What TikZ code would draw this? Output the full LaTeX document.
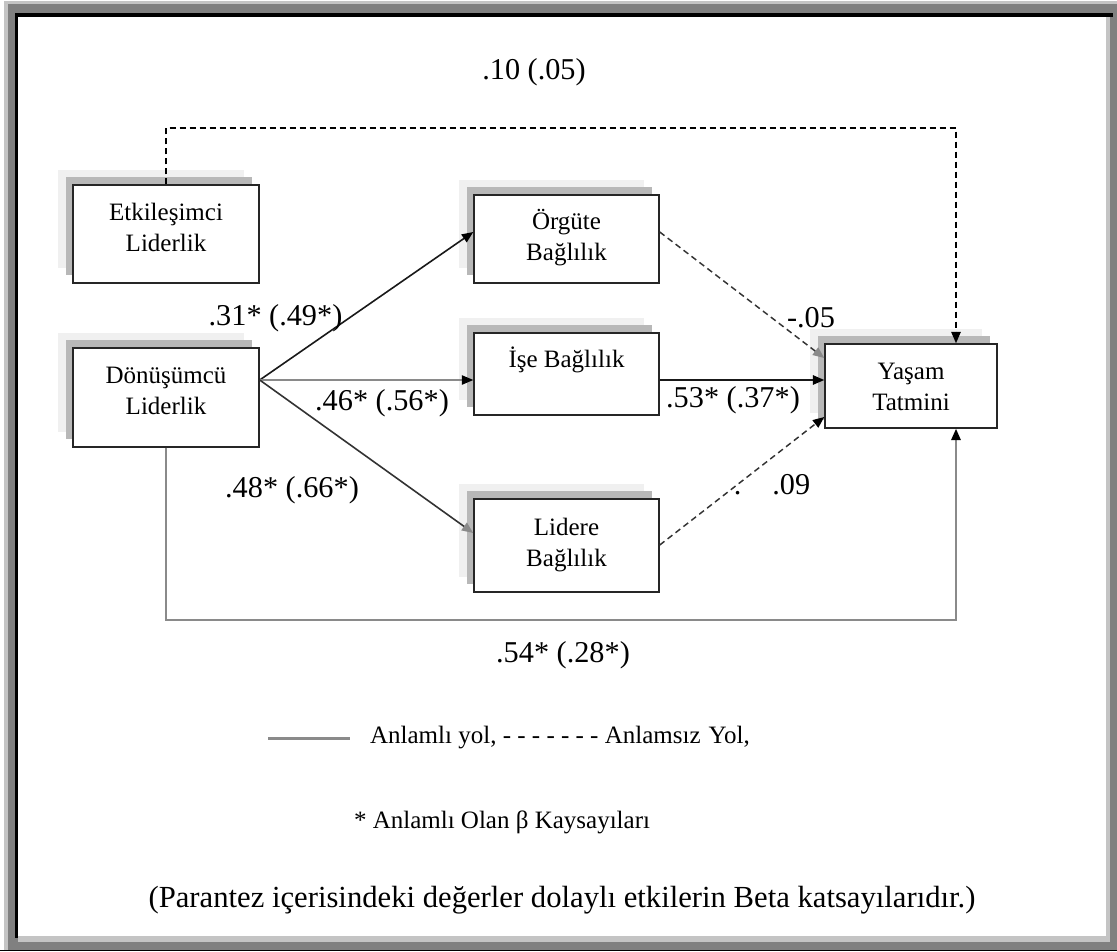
\documentclass[tikz,border=0pt]{standalone}
\usepackage{fontspec}
\setmainfont{Liberation Serif}
\usetikzlibrary{arrows.meta,shadows,calc}

\definecolor{framegray}{HTML}{808080}
\definecolor{framelight}{HTML}{C4C4C4}
\definecolor{shlight}{HTML}{F0F0F0}
\definecolor{shdark}{HTML}{B8B8B8}
\definecolor{pathgray}{HTML}{8A8A8A}
\definecolor{pathdark}{HTML}{333333}

\tikzset{
  box/.style={draw=black!85, line width=1.1pt, fill=white, inner sep=0pt,
    general shadow={fill=shlight, shadow xshift=-11.25pt, shadow yshift=11.25pt},
    general shadow={fill=shdark, shadow xshift=-5.25pt, shadow yshift=6pt}},
  boxtext/.style={font=\fontsize{18.75}{23.25}\selectfont, align=center, inner sep=0pt},
  coef/.style={font=\fontsize{22.7}{26}\selectfont, inner sep=0pt},
  note/.style={font=\fontsize{18.75}{23}\selectfont, inner sep=0pt},
  widenote/.style={font=\fontsize{23}{27}\selectfont, inner sep=0pt},
  tipblack/.style={-{Triangle[length=8.5pt,width=7pt,color=black]}},
  tipgray/.style={-{Triangle[length=8.5pt,width=7pt,color=pathgray]}},
  nonsig/.style={dashed, dash pattern=on 4.5pt off 3pt, line width=1.1pt},
}

\begin{document}
\begin{tikzpicture}[x=0.75pt, y=-0.75pt]
  \useasboundingbox (0,0) rectangle (1117,951);

  % page frame
  \fill[framelight] (4,1) rectangle (1117,950);
  \fill[framegray] (8,4) rectangle (1117,950);
  \fill[black] (15,13) rectangle (1113,17);
  \fill[black] (15,13) rectangle (18,938);
  \fill[framelight] (1106,17) rectangle (1110,942);
  \fill[framelight] (18,936) rectangle (1110,942);
  \fill[white] (18,17) rectangle (1106,936);
  \fill[black] (0,949.5) rectangle (1117,951);

  % boxes
  \node[box, minimum width=139.5pt, minimum height=73.5pt] (etk) at (166,234) {};
  \node[box, minimum width=139.5pt, minimum height=74.25pt] (don) at (166,397.5) {};
  \node[box, minimum width=138.75pt, minimum height=66pt] (org) at (566.5,239) {};
  \node[box, minimum width=138.75pt, minimum height=61.5pt] (ise) at (566.5,374) {};
  \node[box, minimum width=138.75pt, minimum height=69.75pt] (lid) at (566.5,545.5) {};
  \node[box, minimum width=129pt, minimum height=63pt] (yas) at (911,386) {};

  % box texts
  \node[boxtext] (etkt) at (166,227.5) {Etkileşimci\\Liderlik};
  \node[boxtext] (dont) at (166,391) {Dönüşümcü\\Liderlik};
  \node[boxtext] (orgt) at (566.5,237.5) {Örgüte\\Bağlılık};
  \node[boxtext] (iset) at (566.5,360) {İşe Bağlılık};
  \node[boxtext] (lidt) at (566.5,545) {Lidere\\Bağlılık};
  \node[boxtext] (yast) at (911,387) {Yaşam\\Tatmini};

  % paths from the transformational leadership box
  \draw[line width=1.2pt, color=black!90, tipblack]
    ($(don.east)+(0,-17.5)$) -- ($(org.west)+(0,-7)$);
  \draw[line width=0.8pt, color=pathgray, tipblack]
    ($(don.east)+(0,-17.5)$) -- ($(ise.west)+(0,6)$);
  \draw[line width=1.2pt, color=pathdark, tipgray]
    ($(don.east)+(0,-17.5)$) -- ($(lid.west)+(0,-12.5)$);

  % paths into life satisfaction
  \draw[nonsig, color=pathdark, tipgray]
    ($(org.east)+(0,-7)$) -- ($(yas.west)+(0,-28)$);
  \draw[line width=1.2pt, color=black!90, tipblack]
    ($(ise.east)+(0,6)$) -- ($(yas.west)+(0,-6)$);
  \draw[nonsig, color=pathdark, tipblack]
    ($(lid.east)+(0,-0.5)$) -- ($(yas.west)+(0,31)$);

  % transactional leadership -> life satisfaction
  \coordinate (tl) at (166,128);
  \coordinate (tr) at (956,128);
  \draw[nonsig, color=black, tipblack] (etk.north) -- (tl) -- (tr) -- (tr |- yas.north);

  % direct path along the bottom
  \coordinate (bl) at (166,620);
  \coordinate (br) at (956,620);
  \draw[line width=1.5pt, color=pathgray, tipblack] (don.south) -- (bl) -- (br) -- (br |- yas.south);

  % coefficients
  \node[coef] (c10) at (534,72) {.10 (.05)};
  \node[coef] (c31) at (275.5,318) {.31* (.49*)};
  \node[coef] (c46) at (382,403) {.46* (.56*)};
  \node[coef] (c48) at (292,490) {.48* (.66*)};
  \node[coef] (c05) at (811,318) {-.05};
  \node[coef] (c53) at (733,400) {.53* (.37*)};
  \node[coef] (c09) at (772,485) {.\hspace{23.25pt}.09};
  \node[coef] (c54) at (563,655) {.54* (.28*)};

  % legend
  \draw[line width=2.25pt, color=pathgray] (268,738) -- (350,738);
  \node[note] (leg1) at (560,738) {Anlamlı yol, - - - - - - - Anlamsız\hspace{6pt}Yol,};
  \node[note] (leg2) at (502,822) {* Anlamlı Olan β Kaysayıları};
  \node[widenote] (leg3) at (562,900) {(Parantez içerisindeki değerler dolaylı etkilerin Beta katsayılarıdır.)};
\end{tikzpicture}
\end{document}
